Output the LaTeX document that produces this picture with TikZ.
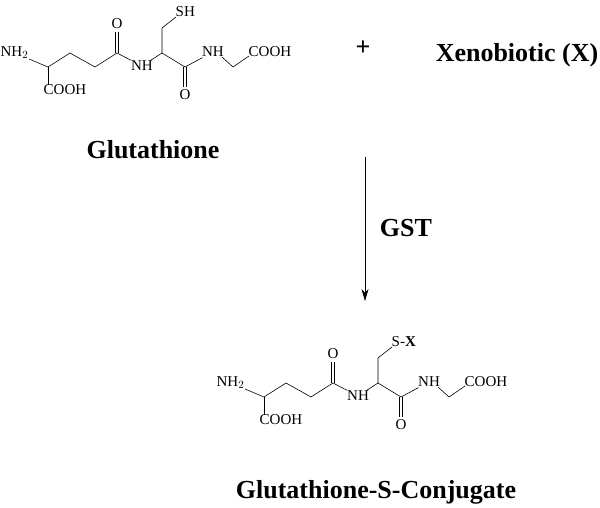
\documentclass[tikz,border=0pt]{standalone}
\usepackage{fontspec}
\setmainfont{Liberation Serif}
\usetikzlibrary{arrows.meta}
\begin{document}
\begin{tikzpicture}[x=1pt,y=-1pt,
  atom/.style={font=\fontsize{15}{15}\selectfont,inner sep=0.5pt},
  bond/.style={line width=0.6pt},
  lab/.style={font=\fontsize{26}{28}\selectfont\bfseries}]
\useasboundingbox (0,0) rectangle (600,508);
\newcommand{\glut}[2]{%
\begin{scope}[shift={(#1)}]
\node[atom,anchor=east] (nh2) at (29,53) {NH$_2$};
\coordinate (c1) at (48,67);
\coordinate (c2) at (70,53);
\coordinate (c3) at (95,67);
\coordinate (c4) at (117,53);
\node[atom] (o1) at (117,24) {O};
\node[atom] (n1) at (142,66) {NH};
\coordinate (c5) at (162,53);
\coordinate (c6) at (162,28);
\node[atom,anchor=west] (s) at (175,12) {#2};
\coordinate (c7) at (185,67);
\node[atom] (o2) at (185,95) {O};
\node[atom] (n2) at (213,52) {NH};
\coordinate (c8) at (233,67);
\node[atom,anchor=west] (cooh2) at (248,52) {COOH};
\node[atom,anchor=north west] (cooh1) at (43,84) {COOH};
\draw[bond] (29,59) -- (c1) -- (c2) -- (c3) -- (c4) -- (n1) -- (c5) -- (c7) -- (n2);
\draw[bond] (c1) -- (48,85);
\draw[bond] ([xshift=-1.5]c4) -- (115.5,32) (118.5,32) -- ([xshift=1.5]c4);
\draw[bond] ([xshift=-1.5]c7) -- (183.5,87) (186.5,87) -- ([xshift=1.5]c7);
\draw[bond] (c5) -- (c6) -- (176,17);
\draw[bond] (222,57) -- (c8) -- (249,56);
\end{scope}}
\glut{0,0}{SH}
\glut{216,330}{S-\textbf{X}}
\node[lab] (plus) at (363,48) {+};
\node[lab] (xeno) at (517,55) {Xenobiotic (X)};
\node[lab] (g) at (153,150) {Glutathione};
\coordinate (a1) at (365,157);
\coordinate (a2) at (365,301);
\draw[line width=0.6pt,-{Stealth[length=12pt,width=7pt]}] (a1) -- (a2);
\node[lab] (gst) at (406,228) {GST};
\node[lab] (conj) at (376,492) {Glutathione-S-Conjugate};
\end{tikzpicture}
\end{document}
